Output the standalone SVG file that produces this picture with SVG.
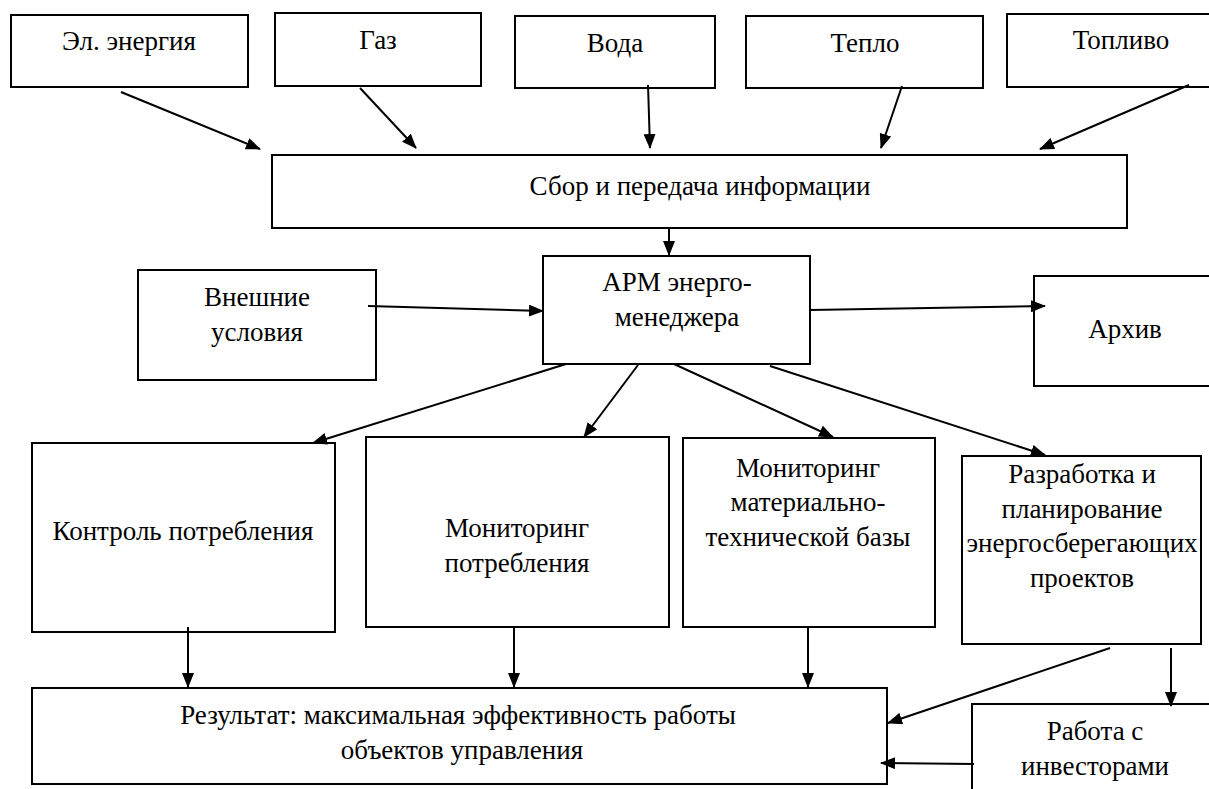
<svg xmlns="http://www.w3.org/2000/svg" width="1209" height="789" viewBox="0 0 1209 789">
<style>
.box{fill:#fff;stroke:#000;stroke-width:2}
.t{font-family:"Liberation Serif","Times New Roman",serif;font-size:27px;fill:#000;text-anchor:middle}
.c{stroke:#000;stroke-width:2;fill:none;marker-end:url(#ah)}
</style>
<defs>
<marker id="ah" markerUnits="userSpaceOnUse" markerWidth="16" markerHeight="12" refX="14" refY="6" orient="auto">
<path d="M0,0 L15,6 L0,12 z" fill="#000"/>
</marker>
</defs>
<rect width="1209" height="789" fill="#fff"/>
<g id="n-el"><rect class="box" x="11" y="15" width="237" height="72"/><text class="t" x="129" y="50">Эл. энергия</text></g>
<g id="n-gas"><rect class="box" x="275" y="13" width="206" height="73"/><text class="t" x="378" y="49">Газ</text></g>
<g id="n-water"><rect class="box" x="515" y="16" width="200" height="72"/><text class="t" x="615" y="52">Вода</text></g>
<g id="n-heat"><rect class="box" x="746" y="16" width="237" height="72"/><text class="t" x="865" y="52">Тепло</text></g>
<g id="n-fuel"><rect class="box" x="1007" y="14" width="220" height="73"/><text class="t" x="1121" y="49">Топливо</text></g>
<g id="n-collect"><rect class="box" x="272" y="155" width="855" height="73"/><text class="t" x="700" y="195">Сбор и передача информации</text></g>
<g id="n-ext"><rect class="box" x="138" y="270" width="238" height="110"/><text class="t" x="257" y="306">Внешние</text><text class="t" x="257" y="341">условия</text></g>
<g id="n-arm"><rect class="box" x="543" y="256" width="267" height="108"/><text class="t" x="677" y="291">АРМ энерго-</text><text class="t" x="677" y="326">менеджера</text></g>
<g id="n-archive"><rect class="box" x="1034" y="276" width="190" height="110"/><text class="t" x="1125" y="338">Архив</text></g>
<g id="n-control"><rect class="box" x="32" y="443" width="303" height="189"/><text class="t" x="183" y="540">Контроль потребления</text></g>
<g id="n-moncons"><rect class="box" x="366" y="437" width="303" height="190"/><text class="t" x="517" y="537">Мониторинг</text><text class="t" x="517" y="572">потребления</text></g>
<g id="n-monmtb"><rect class="box" x="683" y="438" width="252" height="189"/><text class="t" x="808" y="477">Мониторинг</text><text class="t" x="808" y="511">материально-</text><text class="t" x="808" y="546">технической базы</text></g>
<g id="n-dev"><rect class="box" x="962" y="456" width="239" height="188"/><text class="t" x="1082" y="483">Разработка и</text><text class="t" x="1082" y="518">планирование</text><text class="t" x="1082" y="552">энергосберегающих</text><text class="t" x="1082" y="587">проектов</text></g>
<g id="n-result"><rect class="box" x="32" y="688" width="855" height="96"/><text class="t" x="458" y="724">Результат: максимальная эффективность работы</text><text class="t" x="462" y="759">объектов управления</text></g>
<g id="n-invest"><rect class="box" x="972" y="704" width="250" height="100"/><text class="t" x="1095" y="740">Работа с</text><text class="t" x="1095" y="775">инвесторами</text></g>
<g id="connectors">
<line class="c" x1="121" y1="92" x2="260" y2="149"/>
<line class="c" x1="360" y1="88" x2="416" y2="148"/>
<line class="c" x1="648" y1="85" x2="650" y2="148"/>
<line class="c" x1="902" y1="86" x2="881" y2="148"/>
<line class="c" x1="1189" y1="85" x2="1040" y2="149"/>
<line class="c" x1="669" y1="228" x2="669" y2="255"/>
<line class="c" x1="368" y1="306" x2="543" y2="311"/>
<line class="c" x1="810" y1="310" x2="1045" y2="306"/>
<line class="c" x1="566" y1="364" x2="313" y2="443"/>
<line class="c" x1="638" y1="365" x2="584" y2="437"/>
<line class="c" x1="674" y1="364" x2="833" y2="437"/>
<line class="c" x1="770" y1="366" x2="1045" y2="455"/>
<line class="c" x1="188" y1="627" x2="188" y2="687"/>
<line class="c" x1="514" y1="627" x2="514" y2="687"/>
<line class="c" x1="808" y1="627" x2="808" y2="687"/>
<line class="c" x1="1110" y1="648" x2="888" y2="723"/>
<line class="c" x1="1171" y1="648" x2="1171" y2="706"/>
<line class="c" x1="974" y1="764" x2="881" y2="763"/>
</g>
</svg>
